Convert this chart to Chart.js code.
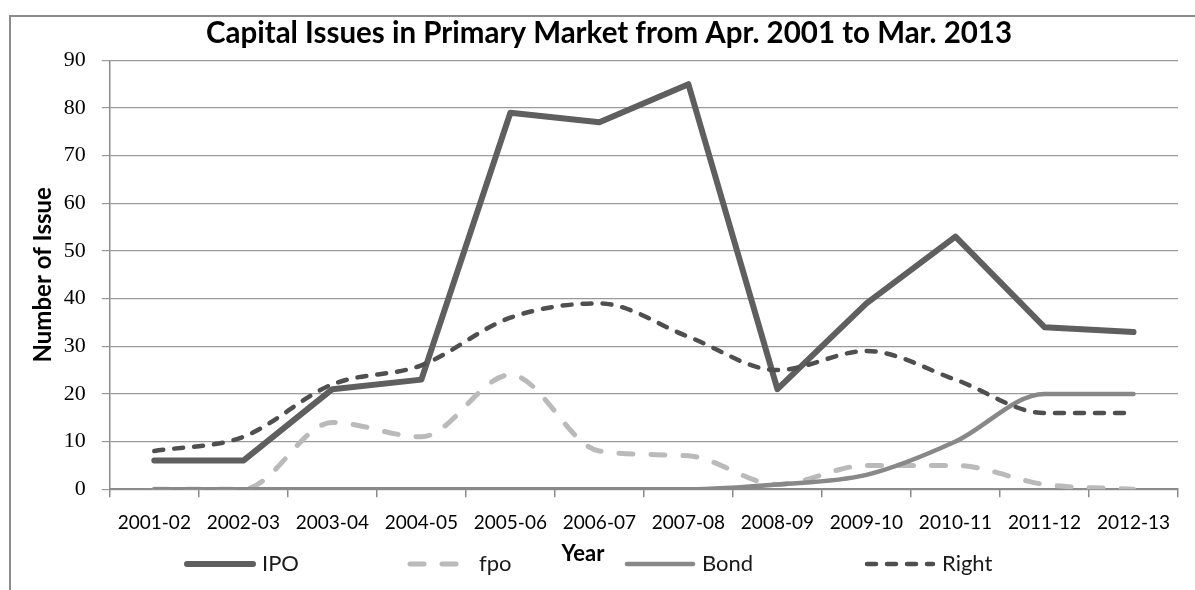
<!DOCTYPE html>
<html>
<head>
<meta charset="utf-8">
<title>Capital Issues in Primary Market</title>
<script src="https://cdn.jsdelivr.net/npm/chart.js@4.4.1/dist/chart.umd.min.js"></script>
<style>
  html, body { margin: 0; padding: 0; background: #fff; overflow: hidden; }
  #frame { position: absolute; left: 9px; top: 15px; width: 1400px; height: 800px; border: 2px solid #8c8c8c; }
  #wrap { position: absolute; left: 0; top: 0; width: 1195px; height: 590px; }
</style>
</head>
<body>
<div id="frame"></div>
<div id="wrap"><canvas id="chartIssues"></canvas></div>
<script>
// Data
const years = ['2001-02', '2002-03', '2003-04', '2004-05', '2005-06', '2006-07',
               '2007-08', '2008-09', '2009-10', '2010-11', '2011-12', '2012-13'];
const ipo   = [6, 6, 21, 23, 79, 77, 85, 21, 39, 53, 34, 33];
const fpo   = [0, 0, 14, 11, 24, 8, 7, 1, 5, 5, 1, 0];
const bond  = [0, 0, 0, 0, 0, 0, 0, 1, 3, 10, 20, 20];
const right = [8, 11, 22, 26, 36, 39, 32, 25, 29, 23, 16, 16];

const yTicks = [0, 10, 20, 30, 40, 50, 60, 70, 80, 90];

const chartTitle = 'Capital Issues in Primary Market from Apr. 2001 to Mar. 2013';
const xTitle = 'Year';
const yTitle = 'Number of Issue';

// Excel style legend: one row under the axis, "Year" sits inside it
const bottomLegend = {
    id: 'bottomLegend',
    afterDraw(chart, args, opts) {
        const ctx = chart.ctx;
        ctx.save();
        ctx.textBaseline = 'middle';
        chart.data.datasets.forEach((ds, i) => {
            const x0 = opts.starts[i];
            const x1 = x0 + opts.sample;
            ctx.beginPath();
            ctx.setLineDash(ds.borderDash || []);
            ctx.lineDashOffset = opts.dashOffsets[i] || 0;
            ctx.lineWidth = ds.borderWidth;
            ctx.strokeStyle = ds.borderColor;
            ctx.lineCap = ds.borderCapStyle || 'butt';
            ctx.moveTo(x0 + 2, opts.y);
            ctx.lineTo(x1 - 2, opts.y);
            ctx.stroke();
            ctx.setLineDash([]);
            ctx.font = opts.font;
            ctx.fillStyle = opts.color;
            ctx.textAlign = 'left';
            ctx.fillText(ds.label, x1 + opts.gap, opts.y);
        });
        ctx.font = opts.titleFont;
        ctx.fillStyle = '#000';
        ctx.textAlign = 'center';
        ctx.fillText(xTitle, opts.titleX, opts.titleY);
        ctx.restore();
    }
};

const ctx = document.getElementById('chartIssues');
new Chart(ctx, {
    type: 'line',
    data: {
        labels: years,
        datasets: [
            {
                label: 'IPO', data: ipo, order: 3,
                borderColor: '#5f5f5f', borderWidth: 6, tension: 0,
                borderCapStyle: 'round', borderJoinStyle: 'round'
            },
            {
                label: 'fpo', data: fpo, order: 2,
                borderColor: '#bababa', borderWidth: 5, cubicInterpolationMode: 'monotone',
                borderDash: [14, 18], borderCapStyle: 'round', borderJoinStyle: 'round'
            },
            {
                label: 'Bond', data: bond, order: 1,
                borderColor: '#888888', borderWidth: 4.5, cubicInterpolationMode: 'monotone',
                borderCapStyle: 'round', borderJoinStyle: 'round'
            },
            {
                label: 'Right', data: right, order: 0,
                borderColor: '#4f4f4f', borderWidth: 4.5, cubicInterpolationMode: 'monotone',
                borderDash: [9, 11], borderCapStyle: 'round', borderJoinStyle: 'round'
            }
        ]
    },
    options: {
        responsive: true,
        maintainAspectRatio: false,
        animation: false,
        devicePixelRatio: 1,
        elements: { point: { radius: 0, hoverRadius: 0 } },
        // wider left padding centres the title like the original; the y title pulls back in
        layout: { padding: { left: 40, right: 17, top: 4, bottom: 42 } },
        plugins: {
            legend: { display: false },
            tooltip: { enabled: false },
            title: {
                display: true,
                text: chartTitle,
                color: '#000',
                font: { family: 'Lato', size: 29.5, weight: 'bold' },
                padding: { top: 12, bottom: 9 }
            },
            bottomLegend: {
                starts: [185, 402, 625, 865],
                dashOffsets: [0, 26, 0, 0],
                sample: 70,
                gap: 7,
                y: 564,
                font: '22px Lato',
                color: '#1a1a1a',
                titleFont: 'bold 22px Lato',
                titleX: 583,
                titleY: 554
            }
        },
        scales: {
            x: {
                offset: true,
                grid: {
                    offset: true,
                    drawOnChartArea: false,
                    drawTicks: true,
                    tickLength: 8,
                    color: '#8c8c8c',
                    lineWidth: 1.5
                },
                border: { color: '#8c8c8c', width: 2 },
                ticks: {
                    color: '#000',
                    padding: 14,
                    maxRotation: 0,
                    autoSkip: false,
                    font: { family: 'Lato', size: 19 }
                }
            },
            y: {
                min: 0,
                max: 90,
                afterBuildTicks: (scale) => { scale.ticks = yTicks.map(v => ({ value: v })); },
                grid: { color: '#9a9a9a', lineWidth: 1.2, tickLength: 8 },
                border: { color: '#8c8c8c', width: 1.5 },
                ticks: {
                    color: '#000',
                    padding: 16,
                    font: { family: 'Liberation Serif', size: 22 }
                },
                title: {
                    display: true,
                    text: yTitle,
                    color: '#000',
                    font: { family: 'Lato', size: 24, weight: 'bold' },
                    padding: { top: -11, bottom: -10 }
                }
            }
        }
    },
    plugins: [bottomLegend]
});
</script>
</body>
</html>
